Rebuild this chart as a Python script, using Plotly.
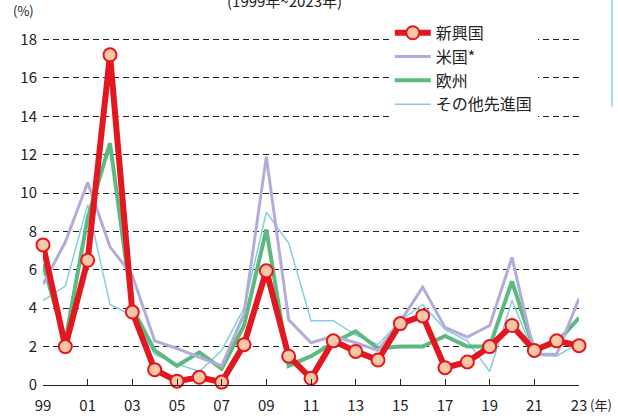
import plotly.graph_objects as go

years = list(range(1999, 2024))
emerging = [7.3, 2.0, 6.5, 17.2, 3.8, 0.8, 0.2, 0.4, 0.15, 2.1, 5.95, 1.5, 0.35, 2.3, 1.75, 1.3, 3.2, 3.6, 0.9, 1.2, 2.0, 3.1, 1.8, 2.3, 2.05]
usa = [5.25, 7.45, 10.55, 7.2, 5.7, 2.3, 1.9, 1.45, 1.0, 3.7, 11.9, 3.4, 2.2, 2.55, 2.2, 1.8, 3.3, 5.1, 3.0, 2.5, 3.1, 6.65, 1.6, 1.6, 4.5]
europe = [6.3, 2.3, 8.7, 12.6, 4.0, 1.8, 1.0, 1.7, 0.85, 3.1, 8.1, 1.0, 1.5, 2.2, 2.8, 1.9, 2.0, 2.0, 2.55, 2.0, 2.0, 5.4, 1.8, 2.2, 3.5]
other = [4.4, 5.15, 9.4, 4.2, 3.6, 1.6, 1.1, 0.7, 1.8, 4.0, 9.0, 7.4, 3.35, 3.35, 2.6, 2.1, 3.35, 4.2, 2.9, 2.3, 0.7, 4.4, 1.55, 1.5, 2.2]

tick_years = list(range(1999, 2024, 2))
tick_text = ["99", "01", "03", "05", "07", "09", "11", "13", "15", "17", "19", "21", "23"]
y_ticks = list(range(0, 19, 2))

FONT = "Noto Sans CJK JP"
TXT = "#222222"

fig = go.Figure()
fig.add_trace(go.Scatter(x=years, y=other, name="その他先進国", mode="lines",
                         line=dict(color="#86cde0", width=1.5), cliponaxis=False))
fig.add_trace(go.Scatter(x=years, y=europe, name="欧州", mode="lines",
                         line=dict(color="#5cb97f", width=4), cliponaxis=False))
fig.add_trace(go.Scatter(x=years, y=usa, name="米国*", mode="lines",
                         line=dict(color="#b3acd9", width=3), cliponaxis=False))
fig.add_trace(go.Scatter(x=years, y=emerging, name="新興国", mode="lines+markers",
                         line=dict(color="#e3171f", width=6),
                         marker=dict(size=13, color="#f9c7a6", line=dict(color="#e3171f", width=2)),
                         cliponaxis=False))

fig.update_layout(
    width=618, height=419,
    margin=dict(l=43, r=39, t=28, b=34, autoexpand=False),
    paper_bgcolor="white", plot_bgcolor="white",
    font=dict(family=FONT, size=15, color=TXT),
    showlegend=True,
    legend=dict(x=0.647, y=1.034, xanchor="left", yanchor="top", bgcolor="white",
                traceorder="reversed", font=dict(size=16, color=TXT), itemwidth=36,
                borderwidth=0, tracegroupgap=0),
    xaxis=dict(range=[1999, 2023], tickvals=tick_years, ticktext=tick_text,
               showgrid=False, zeroline=False, showline=True, linecolor="#222", linewidth=1.3,
               ticks="inside", ticklen=6, tickcolor="#222", tickwidth=1.3, automargin=False,
               ticklabelstandoff=7,
               tickfont=dict(size=15, color=TXT, family=FONT)),
    yaxis=dict(range=[0, 18.6], tickvals=y_ticks, showgrid=True, gridcolor="#222",
               griddash="6px,4px", gridwidth=1.2, zeroline=False, showline=False,
               ticks="", automargin=False, ticklabelstandoff=5,
               tickfont=dict(size=15, color=TXT, family=FONT)),
    annotations=[
        dict(text="(%)", xref="paper", yref="paper", x=-0.037, y=1.049, xanchor="center",
             yanchor="middle", showarrow=False, font=dict(size=13, color=TXT)),
        dict(text="(1999年~2023年)", xref="paper", yref="paper", x=0.45, y=1.077,
             xanchor="center", yanchor="middle", showarrow=False, font=dict(size=15, color=TXT)),
        dict(text="(年)", xref="paper", yref="paper", x=1.0, y=-0.055, xanchor="left",
             yanchor="middle", xshift=9, showarrow=False, font=dict(size=13, color=TXT)),
    ],
    shapes=[
        dict(type="line", xref="paper", yref="paper", x0=1.0616, x1=1.0616, y0=0.78, y1=1.1,
             line=dict(color="#9fdde8", width=2)),
    ],
)

fig.write_html("out.html", config={"displayModeBar": False},
               post_script="document.body.style.margin='0';document.body.style.padding='0';document.body.style.overflow='hidden';")
